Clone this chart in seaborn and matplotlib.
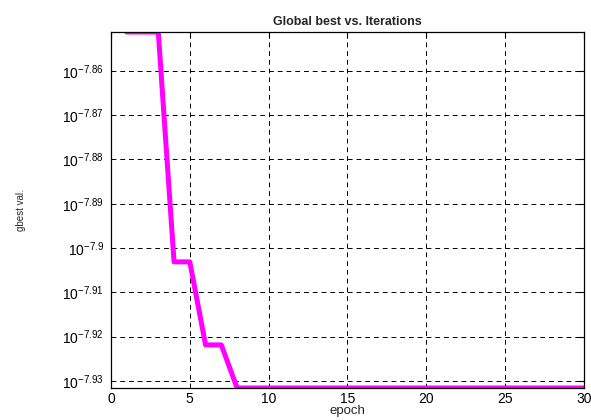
import numpy as np
import pandas as pd
import seaborn as sns
import matplotlib.pyplot as plt
from matplotlib.ticker import FixedLocator, NullLocator

epochs = list(range(1, 31))
gbest = [1.4085e-8, 1.4085e-8, 1.4085e-8, 1.2499e-8, 1.2499e-8,
         1.1971e-8, 1.1971e-8, 1.1706e-8, 1.1706e-8, 1.1706e-8,
         1.1706e-8, 1.1706e-8, 1.1706e-8, 1.1706e-8, 1.1706e-8,
         1.1706e-8, 1.1706e-8, 1.1706e-8, 1.1706e-8, 1.1706e-8,
         1.1706e-8, 1.1706e-8, 1.1706e-8, 1.1706e-8, 1.1706e-8,
         1.1706e-8, 1.1706e-8, 1.1706e-8, 1.1706e-8, 1.1706e-8]
ytick_exps = [-7.86, -7.87, -7.88, -7.89, -7.9, -7.91, -7.92, -7.93]
xticks = [0, 5, 10, 15, 20, 25, 30]

df = pd.DataFrame({"epoch": epochs, "gbest": gbest})

sns.set_style("white")
plt.rcParams["font.family"] = ["Liberation Sans", "DejaVu Sans"]
plt.rcParams["mathtext.fontset"] = "custom"
plt.rcParams["mathtext.rm"] = "Liberation Sans"

fig = plt.figure(figsize=(5.91, 4.2), dpi=100)
ax = fig.add_axes([0.1878, 0.0762, 0.8002, 0.8476])

sns.lineplot(data=df, x="epoch", y="gbest", ax=ax, color="#ff00ff", linewidth=3.6)

ax.set_yscale("log")
ax.set_xlim(0, 30)
ax.set_ylim(min(gbest), max(gbest))

ax.yaxis.set_major_locator(FixedLocator([10 ** e for e in ytick_exps]))
ax.yaxis.set_minor_locator(NullLocator())
ax.set_yticklabels([r"$\mathregular{10^{%g}}$" % e for e in ytick_exps])
ax.set_xticks(xticks)
ax.set_xticklabels([str(t) for t in xticks])

ax.grid(True, color="black", linestyle=(0, (5, 4)), linewidth=0.7)
ax.tick_params(direction="in", length=4, width=0.8, top=True, right=True,
               labelsize=10, colors="black")
ax.tick_params(axis="y", pad=5)
ax.tick_params(axis="x", pad=3)
for s in ax.spines.values():
    s.set_visible(True)
    s.set_color("black")
    s.set_linewidth(0.9)

ax.set_title("Global best vs. Iterations", fontsize=9, fontweight="bold", pad=5)
ax.set_xlabel("epoch", fontsize=9.5, labelpad=-1)
ax.set_ylabel("gbest val.", fontsize=7, labelpad=26)

fig.savefig("out.png", dpi=100)
